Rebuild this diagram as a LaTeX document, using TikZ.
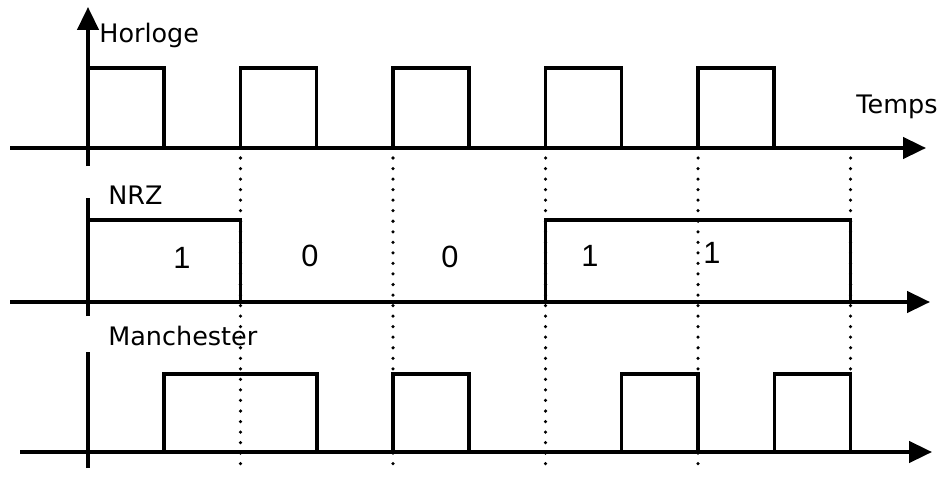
\documentclass[tikz,border=0pt]{standalone}
\usepackage{fontspec}
\setmainfont{DejaVu Sans}
\newfontfamily\digitfont{Liberation Sans}
\usetikzlibrary{arrows.meta}
\begin{document}
\begin{tikzpicture}[x=0.02cm,y=-0.02cm,
  sig/.style={line width=2pt,line join=miter},
  axisline/.style={line width=2.1pt},
  arr/.style={-{Triangle[length=13pt,width=12pt]}},
  guide/.style={line width=2pt,line cap=round,dash pattern=on 0pt off 6pt},
  lbl/.style={font=\fontsize{14.5}{16}\selectfont,anchor=west,inner sep=0pt},
  bit/.style={font=\digitfont\fontsize{17.5}{19}\selectfont,inner sep=0pt}]
\useasboundingbox (0,0) rectangle (943,483);
% coordinates
\coordinate (hL) at (10,148);  \coordinate (hR) at (926,148);
\coordinate (nL) at (10,302);  \coordinate (nR) at (930,302);
\coordinate (mL) at (20,452);  \coordinate (mR) at (932,452);
\coordinate (hvB) at (88,166); \coordinate (hvT) at (88,7);
\coordinate (nvB) at (88,316); \coordinate (nvT) at (88,198);
\coordinate (mvB) at (88,468); \coordinate (mvT) at (88,352);
% guides (dotted)
\foreach \x/\e [count=\i] in {240.5/470,393/472,545.5/470,698/468,850.5/372}{
  \coordinate (gT\i) at (\x,158); \coordinate (gB\i) at (\x,\e);
  \draw[guide] (gT\i) -- (gB\i);
}
% axes
\draw[axisline,arr] (hL) -- (hR);
\draw[axisline,arr] (nL) -- (nR);
\draw[axisline,arr] (mL) -- (mR);
\draw[axisline,arr] (hvB) -- (hvT);
\draw[axisline] (nvB) -- (nvT);
\draw[axisline] (mvB) -- (mvT);
% clock
\foreach \i in {0,...,4}{
  \pgfmathsetmacro{\xa}{88+\i*152.5}
  \pgfmathsetmacro{\xb}{\xa+76}
  \draw[sig] (\xa,148) -- (\xa,68) -- (\xb,68) -- (\xb,148);
}
% NRZ
\draw[sig] (88,302) -- (88,220) -- (240.5,220) -- (240.5,302);
\draw[sig] (545.5,302) -- (545.5,220) -- (850.5,220) -- (850.5,302);
% Manchester
\foreach \xa/\xb in {164/317,393/469,621.5/698,774.5/850.5}{
  \draw[sig] (\xa,452) -- (\xa,374) -- (\xb,374) -- (\xb,452);
}
% labels
\node[lbl] (horloge) at (99,35) {Horloge};
\node[lbl,anchor=center] (temps) at (897,107) {Temps};
\node[lbl] (nrz) at (108,195) {NRZ};
\node[lbl] (manch) at (108,336) {Manchester};
\node[bit] (b1) at (182,258) {1};
\node[bit] (b2) at (310,256) {0};
\node[bit] (b3) at (450,257) {0};
\node[bit] (b4) at (590,256) {1};
\node[bit] (b5) at (712,253) {1};
\end{tikzpicture}
\end{document}
